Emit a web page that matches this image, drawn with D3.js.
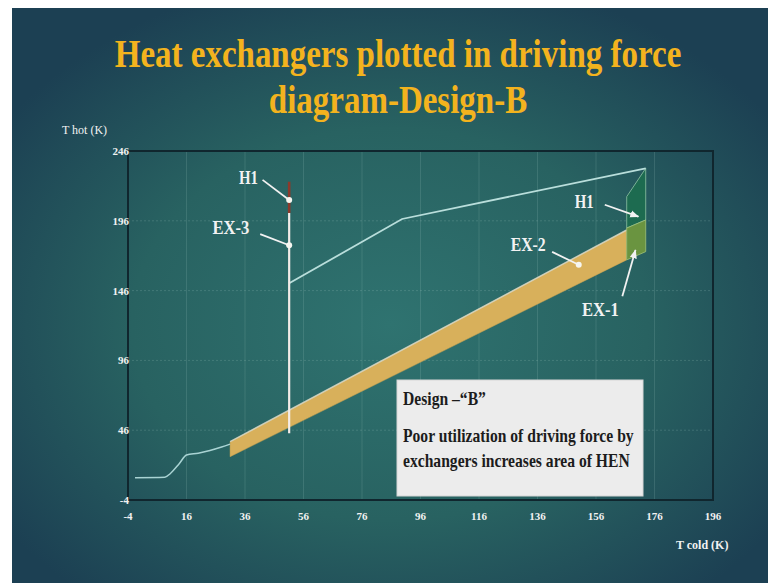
<!DOCTYPE html>
<html>
<head>
<meta charset="utf-8">
<script src="https://cdn.jsdelivr.net/npm/d3@7"></script>
<style>
  html, body { margin: 0; padding: 0; background: #fff; }
  svg { display: block; }
</style>
</head>
<body>
<svg id="chart" width="768" height="583"></svg>
<script>
// axis ticks
const xTicks = [-4, 16, 36, 56, 76, 96, 116, 136, 156, 176, 196];
const yTicks = [-4, 46, 96, 146, 196, 246];

// cold side curve below the band (T cold, T hot)
const lowCurve = [[-1.6, 12], [8.6, 12.3], [10.5, 15], [13.5, 22], [16, 28.2], [20, 29.5], [24, 31.5], [28, 34], [30.9, 36]];
// hot stream line
const hotCurve = [[51.1, 151.2], [89.7, 197.3], [173, 233.6]];
// EX-3 / H1 on the vertical
const ex3Line = [[51.1, 43.8], [51.1, 201.6]];
const h1Line = [[51.1, 201.6], [51.1, 224]];
// EX-2 band
const ex2Top = [[30.9, 37.8], [166.5, 189.4]];
const ex2Bottom = [[30.9, 27], [166.5, 168]];
// end exchangers
const ex1Poly = [[166.5, 190.8], [173, 196.6], [173, 173.9], [166.5, 168]];
const h1Poly = [[166.5, 213.3], [173, 233.6], [173, 196.6], [166.5, 190.8]];

// labels: text, text position, line start, tip, marker type
const labels = [
  { text: "H1", at: [37.2, 222.5], from: [42, 225.3], tip: [51.1, 210.9], mark: "dot", w: 19 },
  { text: "EX-3", at: [31.2, 186.4], from: [41.2, 186.4], tip: [51.1, 178.5], mark: "dot", w: 37 },
  { text: "H1", at: [152, 205], from: [159, 207.5], tip: [170.5, 199], mark: "arrow", w: 19 },
  { text: "EX-2", at: [132.8, 174.4], from: [141, 173.7], tip: [150.1, 164.5], mark: "dot", w: 35 },
  { text: "EX-1", at: [157.5, 128], from: [165, 142], tip: [169.5, 175], mark: "arrow", w: 37 }
];

const notes = ["Design \u2013\u201cB\u201d", "Poor utilization of driving force by", "exchangers increases area of HEN"];
const titles = ["Heat exchangers plotted in driving force", "diagram-Design-B"];

const svg = d3.select("#chart");
const W = 768, H = 583;

// background gradient
const defs = svg.append("defs");
const grad = defs.append("radialGradient")
  .attr("id", "bg").attr("cx", "0.5").attr("cy", "0.55").attr("r", "0.62");
grad.append("stop").attr("offset", "0%").attr("stop-color", "#2f7370");
grad.append("stop").attr("offset", "55%").attr("stop-color", "#286261");
grad.append("stop").attr("offset", "100%").attr("stop-color", "#1c4053");

defs.append("marker")
  .attr("id", "arr").attr("viewBox", "0 0 10 10")
  .attr("refX", 9).attr("refY", 5)
  .attr("markerWidth", 5).attr("markerHeight", 5)
  .attr("orient", "auto")
  .append("path").attr("d", "M0,1 L10,5 L0,9 Z").attr("fill", "#f2f2f2");

svg.append("rect").attr("x", 12).attr("y", 8).attr("width", W - 12).attr("height", H - 8)
  .attr("fill", "url(#bg)");

const x = d3.scaleLinear().domain([-4, 196]).range([128, 713]);
const y = d3.scaleLinear().domain([-4, 246]).range([500, 151]);

// grid
svg.append("g").selectAll("line")
  .data(xTicks.slice(1, -1))
  .join("line")
  .attr("x1", d => x(d)).attr("x2", d => x(d))
  .attr("y1", y(246)).attr("y2", y(-4))
  .attr("stroke", "#9fc7c0").attr("stroke-opacity", 0.18).attr("stroke-width", 1);
svg.append("g").selectAll("line")
  .data(yTicks.slice(1, -1))
  .join("line")
  .attr("x1", x(-4)).attr("x2", x(196))
  .attr("y1", d => y(d)).attr("y2", d => y(d))
  .attr("stroke", "#9fc7c0").attr("stroke-opacity", 0.22)
  .attr("stroke-dasharray", "2,2");

// frame
svg.append("rect")
  .attr("x", x(-4)).attr("y", y(246))
  .attr("width", x(196) - x(-4)).attr("height", y(-4) - y(246))
  .attr("fill", "none").attr("stroke", "#10262e").attr("stroke-width", 2);

// tick labels
const serif = "'Liberation Serif', 'Times New Roman', serif";
svg.append("g").selectAll("text")
  .data(xTicks)
  .join("text")
  .attr("x", d => x(d)).attr("y", 520)
  .attr("text-anchor", "middle")
  .attr("font-family", serif).attr("font-weight", "bold")
  .attr("font-size", 11).attr("fill", "#f2f2f2")
  .text(d => d);
svg.append("g").selectAll("text")
  .data(yTicks)
  .join("text")
  .attr("x", 129).attr("y", d => y(d) + 4)
  .attr("text-anchor", "end")
  .attr("font-family", serif).attr("font-weight", "bold")
  .attr("font-size", 11).attr("fill", "#f2f2f2")
  .text(d => d);

// axis titles
svg.append("text").attr("x", 62).attr("y", 134)
  .attr("font-family", serif).attr("font-size", 12).attr("fill", "#f2f2f2")
  .text("T  hot (K)");
svg.append("text").attr("x", 676).attr("y", 549)
  .attr("font-family", serif).attr("font-weight", "bold")
  .attr("font-size", 12).attr("fill", "#f2f2f2")
  .text("T cold (K)");

const line = d3.line().x(d => x(d[0])).y(d => y(d[1]));

// EX-2 band
const band = ex2Top.concat(ex2Bottom.slice().reverse());
svg.append("path").attr("d", line(band) + "Z")
  .attr("fill", "#d8b05b").attr("stroke", "#caa24f").attr("stroke-width", 0.5);
svg.append("path").attr("d", line(ex2Top))
  .attr("fill", "none").attr("stroke", "#d9ddd2").attr("stroke-width", 1.5)
  .attr("stroke-opacity", 0.8);

// end exchangers
svg.append("path").attr("d", line(h1Poly) + "Z")
  .attr("fill", "#1d6b50").attr("stroke", "#8fc3a4").attr("stroke-width", 0.8);
svg.append("path").attr("d", line(ex1Poly) + "Z")
  .attr("fill", "#6a9440").attr("stroke", "#9fc27a").attr("stroke-width", 0.8);

// lower curve
svg.append("path").attr("d", d3.line().x(d => x(d[0])).y(d => y(d[1])).curve(d3.curveMonotoneX)(lowCurve))
  .attr("fill", "none").attr("stroke", "#a9d3d3").attr("stroke-width", 1.5);

// hot curve
svg.append("path").attr("d", line(hotCurve))
  .attr("fill", "none").attr("stroke", "#b9dedb").attr("stroke-width", 1.8);

// vertical EX-3 / H1
svg.append("path").attr("d", line(ex3Line))
  .attr("stroke", "#f4ece8").attr("stroke-width", 2.2);
svg.append("path").attr("d", line(h1Line))
  .attr("stroke", "#8c3a2c").attr("stroke-width", 2.6);

// labels
labels.forEach(l => {
  const p = svg.append("line")
    .attr("x1", x(l.from[0])).attr("y1", y(l.from[1]))
    .attr("x2", x(l.tip[0])).attr("y2", y(l.tip[1]))
    .attr("stroke", "#f2f2f2").attr("stroke-width", 1.8);
  if (l.mark === "arrow") p.attr("marker-end", "url(#arr)");
  else svg.append("circle").attr("cx", x(l.tip[0])).attr("cy", y(l.tip[1]))
    .attr("r", 3).attr("fill", "#f6f6f0");
  svg.append("text")
    .attr("x", x(l.at[0])).attr("y", y(l.at[1]))
    .attr("text-anchor", "middle")
    .attr("font-family", serif).attr("font-weight", "bold")
    .attr("font-size", 19).attr("fill", "#f2f2f2")
    .attr("textLength", l.w).attr("lengthAdjust", "spacingAndGlyphs")
    .text(l.text);
});

// note box
svg.append("rect").attr("x", 397).attr("y", 380).attr("width", 246).attr("height", 116)
  .attr("fill", "#ececec").attr("stroke", "#d6d6d6");
const noteY = [405, 442, 467];
svg.append("g").selectAll("text")
  .data(notes)
  .join("text")
  .attr("transform", (d, i) => `translate(403,${noteY[i]}) scale(0.845,1)`)
  .attr("font-family", serif).attr("font-weight", "bold")
  .attr("font-size", 18.5).attr("fill", "#1c1c1c")
  .text(d => d);

// title, horizontally condensed like the slide font
const titleY = [67, 113];
svg.append("g").selectAll("text")
  .data(titles)
  .join("text")
  .attr("transform", (d, i) => `translate(398,${titleY[i]}) scale(0.825,1)`)
  .attr("text-anchor", "middle")
  .attr("font-family", serif).attr("font-weight", "bold")
  .attr("font-size", 40).attr("fill", "#f3b31e")
  .text(d => d);
</script>
</body>
</html>
